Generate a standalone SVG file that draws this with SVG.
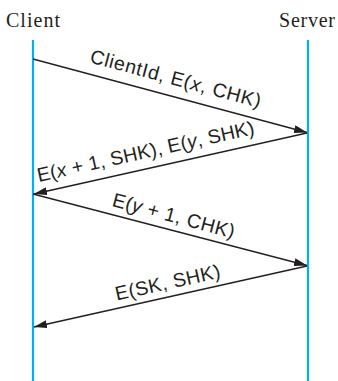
<svg xmlns="http://www.w3.org/2000/svg" width="338" height="381" viewBox="0 0 338 381">
<defs>
<marker id="ah" markerWidth="13" markerHeight="8" refX="13" refY="4" orient="auto" markerUnits="userSpaceOnUse">
<path d="M0,0 L13,4 L0,8 z" fill="#231f20"/>
</marker>
<style>
.life{stroke:#00b0f0;stroke-width:2.2;fill:none}
.msg{stroke:#231f20;stroke-width:1.3;fill:none;marker-end:url(#ah)}
.title{font-family:"Liberation Serif",serif;font-size:20px;fill:#231f20}
.lbl{font-family:"Liberation Sans",Arial,sans-serif;font-size:19.5px;fill:#231f20;text-anchor:middle}
.it{font-style:italic}
</style>
</defs>
<g id="client">
<text class="title" x="6" y="27" textLength="54">Client</text>
<line class="life" x1="33" y1="40" x2="33" y2="381"/>
</g>
<g id="server">
<text class="title" x="279" y="27" textLength="56">Server</text>
<line class="life" x1="308" y1="40" x2="308" y2="381"/>
</g>
<g id="connectors">
<line class="msg" x1="33" y1="59" x2="307" y2="132.5"/>
<line class="msg" x1="307" y1="133" x2="34" y2="194"/>
<line class="msg" x1="33" y1="194" x2="307" y2="265.5"/>
<line class="msg" x1="307" y1="266" x2="34" y2="327"/>
<text class="lbl" transform="translate(174,85) rotate(15)" textLength="176" lengthAdjust="spacing">ClientId, E(<tspan class="it">x</tspan>, CHK)</text>
<text class="lbl" transform="translate(147,158) rotate(-12.5)" textLength="222" lengthAdjust="spacing">E(<tspan class="it">x</tspan> + 1, SHK), E(<tspan class="it">y</tspan>, SHK)</text>
<text class="lbl" transform="translate(172,222) rotate(15)" textLength="126" lengthAdjust="spacing">E(<tspan class="it">y</tspan> + 1, CHK)</text>
<text class="lbl" transform="translate(169,289) rotate(-12.5)" textLength="107" lengthAdjust="spacing">E(SK, SHK)</text>
</g>
</svg>
